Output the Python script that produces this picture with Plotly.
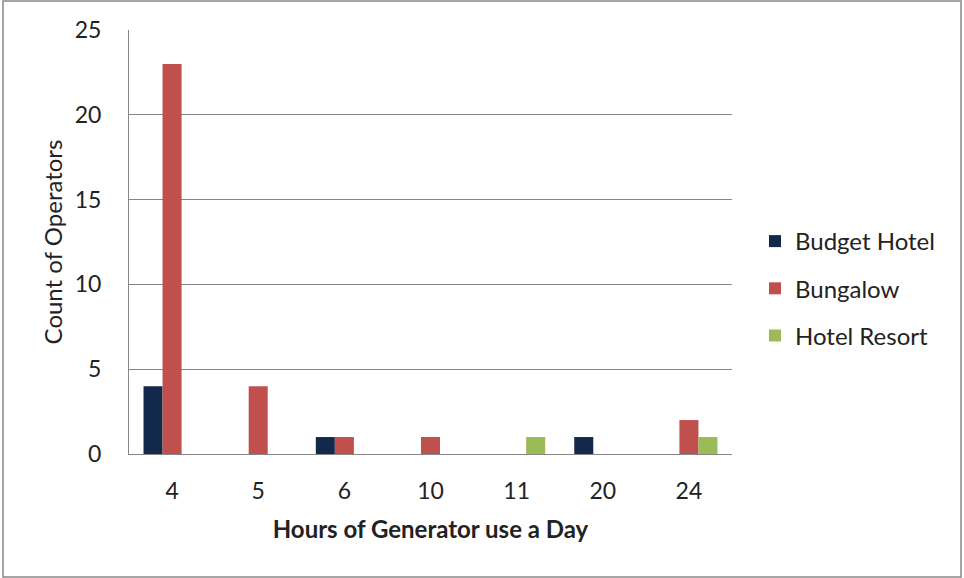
import plotly.graph_objects as go

categories = ["4", "5", "6", "10", "11", "20", "24"]
budget_hotel = [4, 0, 1, 0, 0, 1, 0]
bungalow = [23, 4, 1, 1, 0, 0, 2]
hotel_resort = [0, 0, 0, 0, 1, 0, 1]
y_ticks = [0, 5, 10, 15, 20, 25]

W, H = 964, 578
L, R, T, B = 129, 232, 30, 124
pw, ph = W - L - R, H - T - B

font = "Lato, 'Open Sans', sans-serif"
fig = go.Figure()
for name, vals, col in [("Budget Hotel", budget_hotel, "#13294B"),
                        ("Bungalow", bungalow, "#C0504D"),
                        ("Hotel Resort", hotel_resort, "#9BBB59")]:
    fig.add_trace(go.Bar(x=categories, y=vals, name=name, legendgroup=name,
                         marker=dict(color=col, line=dict(width=0))))

fig.update_layout(
    width=W, height=H, margin=dict(l=L, r=R, t=T, b=B),
    paper_bgcolor="white", plot_bgcolor="white",
    barmode="group", bargap=0.337, bargroupgap=0,
    font=dict(family=font, size=23, color="#222222"),
    showlegend=True,
    legend=dict(x=(755 - L) / pw, y=(454 - 219) / ph, xanchor="left", yanchor="top",
                font=dict(size=24), tracegroupgap=13, itemwidth=30,
                bgcolor="rgba(0,0,0,0)"),
    xaxis=dict(type="category", showgrid=False, showline=True, linecolor="#868686",
               linewidth=1, ticks="", ticklabelstandoff=16,
               title=dict(text="<b>Hours of Generator use a Day</b>", font=dict(size=24), standoff=18)),
    yaxis=dict(range=[0, 25], tickvals=y_ticks, showgrid=True, gridcolor="#868686",
               gridwidth=1, showline=True, linecolor="#868686", linewidth=1,
               ticks="", ticklabelstandoff=22, zeroline=False,
               title=dict(text="Count of Operators", font=dict(size=24), standoff=5)),
    shapes=[dict(type="rect", xref="paper", yref="paper",
                 x0=(3 - L) / pw, x1=(961 - L) / pw,
                 y0=(454 - 577) / ph, y1=(454 - 1) / ph,
                 line=dict(color="#888888", width=1.5), fillcolor="rgba(0,0,0,0)", layer="below")],
)

fig.write_html("out.html", config={"displayModeBar": False},
               post_script="document.body.style.margin='0px';")
